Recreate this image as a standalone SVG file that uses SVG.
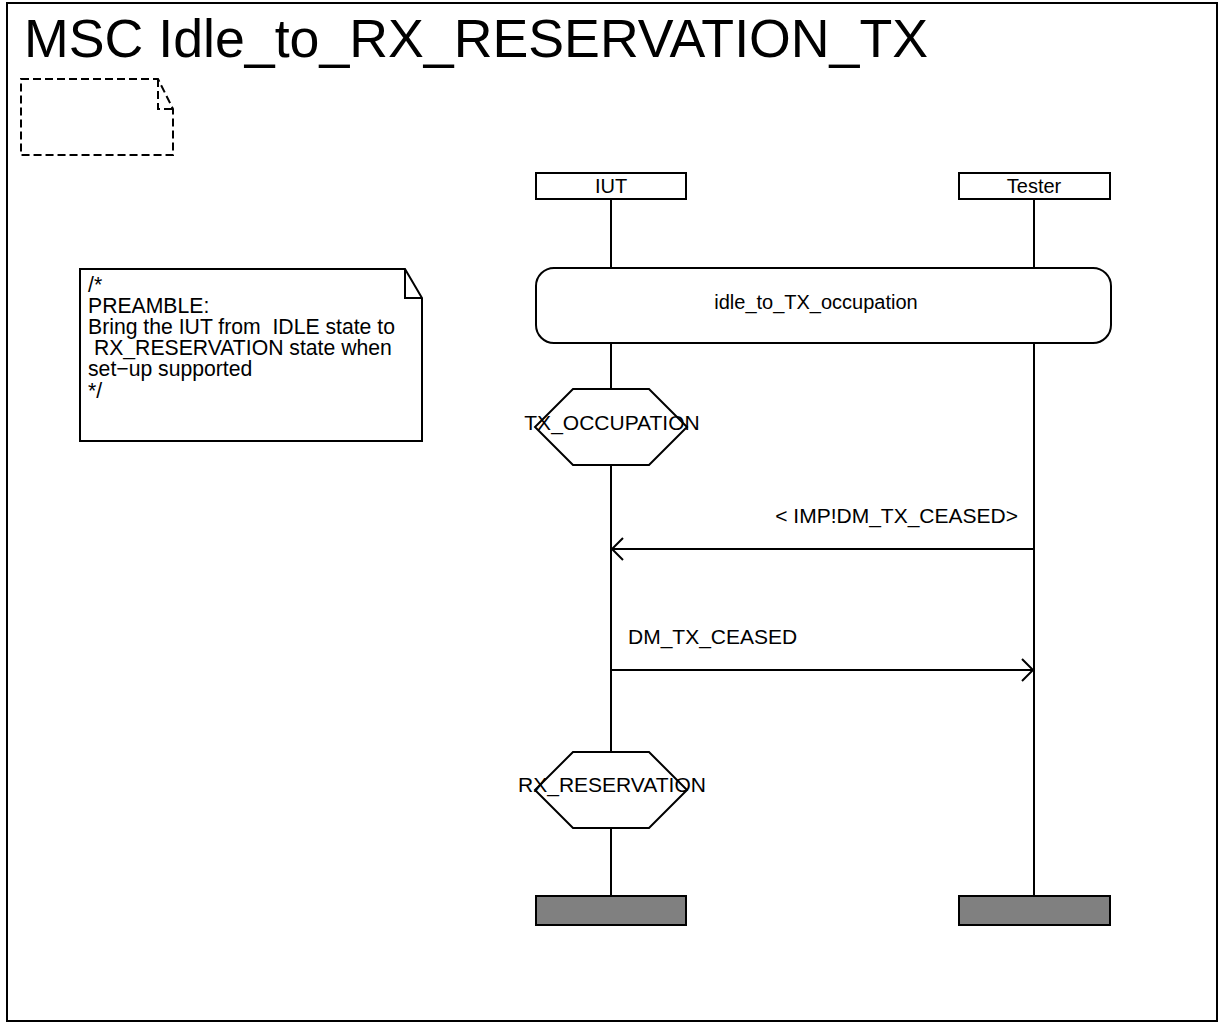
<svg xmlns="http://www.w3.org/2000/svg" width="1220" height="1023" viewBox="0 0 1220 1023">
<style>
text{font-family:"Liberation Sans",Arial,sans-serif;fill:#000}
.ln{stroke:#000;stroke-width:2;fill:none}
.box{stroke:#000;stroke-width:2;fill:#fff}
.end{stroke:#000;stroke-width:2;fill:#808080}
.t{font-size:20px}
.c{text-anchor:middle}
</style>
<rect x="0" y="0" width="1220" height="1023" fill="#fff"/>
<g id="frame">
<rect x="7" y="3" width="1210" height="1018" class="ln"/>
<text x="24" y="57" style="font-size:53.7px">MSC Idle_to_RX_RESERVATION_TX</text>
</g>
<g id="dashed-note">
<path d="M21,79 H158 L173,109 V155 H21 Z M158,79 V109 H173" class="ln" stroke-dasharray="8,4"/>
</g>
<g id="comment">
<path d="M80,269 H405 L422,298 V441 H80 Z" class="box"/>
<path d="M405,269 V298 H422" class="ln"/>
<text style="font-size:21.2px" xml:space="preserve"><tspan x="88" y="292">/*</tspan><tspan x="88" y="313">PREAMBLE:</tspan><tspan x="88" y="334">Bring the IUT from  IDLE state to</tspan><tspan x="88" y="355"> RX_RESERVATION state when</tspan><tspan x="88" y="376">set−up supported</tspan><tspan x="88" y="398">*/</tspan></text>
</g>
<g id="IUT">
<rect x="536" y="173" width="150" height="26" class="box"/>
<text x="611" y="193" class="t c">IUT</text>
<rect x="536" y="896" width="150" height="29" class="end"/>
</g>
<g id="Tester">
<rect x="959" y="173" width="151" height="26" class="box"/>
<text x="1034" y="193" class="t c">Tester</text>
<rect x="959" y="896" width="151" height="29" class="end"/>
</g>
<g id="lifelines">
<path d="M611,199 V268 M611,343 V389 M611,465 V752 M611,828 V896" class="ln"/>
<path d="M1034,199 V268 M1034,343 V896" class="ln"/>
</g>
<g id="ref-idle_to_TX_occupation">
<rect x="536" y="268" width="575" height="75" rx="18" ry="18" class="box"/>
<text x="816" y="309" class="t c">idle_to_TX_occupation</text>
</g>
<g id="state-TX_OCCUPATION">
<path d="M573,389 H649 L687,427 L649,465 H573 L535,427 Z" class="box"/>
<text x="612" y="430" class="c" style="font-size:21px">TX_OCCUPATION</text>
</g>
<g id="state-RX_RESERVATION">
<path d="M573,752 H649 L687,790 L649,828 H573 L535,790 Z" class="box"/>
<text x="612" y="792" class="c" style="font-size:21px">RX_RESERVATION</text>
</g>
<g id="connectors">
<path d="M1034,549 H612 M623,538 L612,549 L623,560" class="ln"/>
<text x="1018" y="523" style="font-size:21px;text-anchor:end">&lt; IMP!DM_TX_CEASED&gt;</text>
<path d="M611,670 H1033 M1022,659 L1033,670 L1022,681" class="ln"/>
<text x="628" y="644" style="font-size:21px">DM_TX_CEASED</text>
</g>
</svg>
